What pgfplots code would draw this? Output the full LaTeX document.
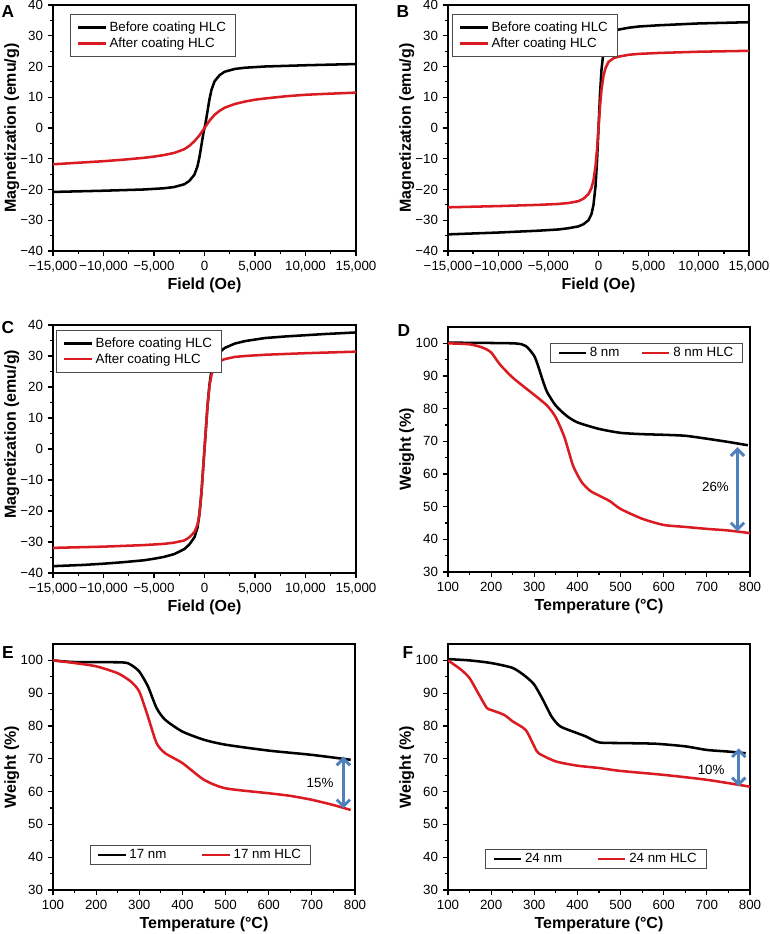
\documentclass[border=0pt]{standalone}
\usepackage{pgfplots}
\pgfplotsset{compat=1.18}
\usepackage{fontspec}
\setmainfont{Liberation Sans}
\usetikzlibrary{arrows.meta}
\definecolor{cred}{RGB}{218,28,34}
\definecolor{cblue}{RGB}{79,129,189}
\pgfplotsset{
  panel/.style={
    scale only axis, axis line style={line width=1.4pt}, tick align=outside, tick pos=left,
    major tick length=4pt, minor tick length=2.5pt, tick style={black, line width=0.9pt},
    minor tick num=1, scaled x ticks=false, scaled y ticks=false,
    tick label style={font=\fontsize{10}{12}\selectfont},
    label style={font=\bfseries\fontsize{12}{14}\selectfont},
    xlabel style={at={(axis description cs:0.5,0)}, anchor=center, yshift=-26pt},
    ylabel style={at={(axis description cs:0,0.5)}, anchor=center, yshift=31pt},
    /pgf/number format/assume math mode=true,
    legend style={draw=black!70, line width=0.6pt, font=\fontsize{10}{12}\selectfont, inner xsep=5pt, inner ysep=3.5pt, row sep=-1pt},
    legend cell align=left,
    legend image code/.code={\draw[#1] (0cm,0cm) -- (0.72cm,0cm);},
    every axis plot/.append style={line width=1.9pt, line join=round},
  },
  mag/.style={panel, xmin=-15000, xmax=15000, ymin=-40, ymax=40,
    xtick={-15000,-10000,-5000,0,5000,10000,15000},
    xticklabels={{−15,000},{−10,000},{−5,000},0,{5,000},{10,000},{15,000}},
    ytick={-40,-30,-20,-10,0,10,20,30,40},
    yticklabels={−40,−30,−20,−10,0,10,20,30,40},
    xlabel={Field (Oe)}, ylabel={Magnetization (emu/g)}},
  tga/.style={panel, xmin=100, xmax=800, ymin=30, ymax=105,
    xtick={100,200,...,800}, ytick={30,40,...,100},
    xlabel={Temperature (°C)}, ylabel={Weight (\%)},
    legend columns=2, legend style={inner ysep=1pt, /tikz/every even column/.append style={column sep=14pt}}},
}
\begin{document}
\begin{tikzpicture}
\path[use as bounding box] (0pt,0pt) rectangle (577.5pt,700.5pt);
% ---------- A ----------
\begin{axis}[mag, at={(39.75pt,512.25pt)}, anchor=south west, width=227.25pt, height=184.5pt,
  legend style={at={(0.056,0.963)}, anchor=north west}]
\addplot[black] coordinates {(-15000,-20.8) (-10000,-20.4) (-6000,-20.0) (-4000,-19.6) (-3000,-19.2) (-2000,-18.3) (-1500,-17.2) (-1000,-15.2) (-700,-12.5) (-500,-9.5) (-300,-5.5) (-100,-1.5) (0,0) (100,1.5) (300,5.5) (500,9.5) (700,12.5) (1000,15.2) (1500,17.2) (2000,18.3) (3000,19.2) (4000,19.6) (6000,20.0) (10000,20.4) (15000,20.8)};
\addplot[cred] coordinates {(-15000,-11.8) (-12000,-11.2) (-10000,-10.8) (-8000,-10.3) (-6000,-9.7) (-5000,-9.3) (-4000,-8.8) (-3000,-8.1) (-2000,-6.9) (-1500,-5.8) (-1000,-4.3) (-500,-2.4) (0,0) (500,2.4) (1000,4.3) (1500,5.6) (2000,6.6) (3000,7.8) (4000,8.6) (5000,9.2) (6000,9.6) (8000,10.3) (10000,10.8) (12000,11.1) (15000,11.5)};
\legend{Before coating HLC, After coating HLC}
\end{axis}
% ---------- B ----------
\begin{axis}[mag, at={(336pt,512.25pt)}, anchor=south west, width=225.75pt, height=184.5pt,
  legend style={at={(0.013,0.963)}, anchor=north west}]
\addplot[black] coordinates {(-15000,-34.6) (-10000,-34.0) (-6000,-33.4) (-4000,-33.0) (-3000,-32.6) (-2000,-32.0) (-1500,-31.3) (-1000,-30.0) (-700,-28.0) (-500,-25.0) (-300,-19) (-150,-11) (0,0) (150,11) (300,19) (500,25) (700,28) (1000,30) (1500,31.3) (2000,32.0) (3000,32.6) (4000,33.0) (6000,33.4) (10000,34.0) (15000,34.4)};
\addplot[cred] coordinates {(-15000,-25.8) (-10000,-25.4) (-6000,-25.0) (-4000,-24.7) (-3000,-24.4) (-2000,-23.8) (-1500,-23.0) (-1000,-21.5) (-700,-19.5) (-500,-17) (-300,-12.5) (-150,-7) (0,0) (150,7) (300,12.5) (500,17) (700,19.5) (1000,21.5) (1500,22.7) (2000,23.2) (3000,23.8) (4000,24.1) (6000,24.4) (10000,24.8) (15000,25.1)};
\legend{Before coating HLC, After coating HLC}
\end{axis}
% ---------- C ----------
\begin{axis}[mag, at={(39.75pt,270.75pt)}, anchor=south west, width=227.25pt, height=186pt,
  ylabel style={at={(axis description cs:0,0.56)}},
  legend style={at={(0.01,0.98)}, anchor=north west}]
\addplot[black] coordinates {(-15000,-37.8) (-12000,-37.4) (-10000,-37.0) (-8000,-36.5) (-6000,-35.9) (-5000,-35.4) (-4000,-34.8) (-3000,-33.9) (-2000,-32.3) (-1500,-30.8) (-1000,-28.5) (-700,-25.5) (-500,-21) (-300,-14) (-150,-7) (0,0) (150,7) (300,14) (500,21) (700,25.5) (1000,28.8) (1500,31.2) (2000,32.6) (3000,34.0) (4000,34.8) (5000,35.3) (6000,35.8) (8000,36.3) (10000,36.7) (12000,37.1) (15000,37.6)};
\addplot[cred] coordinates {(-15000,-31.9) (-10000,-31.5) (-6000,-31.0) (-4000,-30.6) (-3000,-30.2) (-2000,-29.5) (-1500,-28.5) (-1000,-26.8) (-700,-24.5) (-500,-21) (-300,-14) (-150,-7) (0,0) (150,7) (300,14) (500,20.5) (700,24) (1000,26.8) (1500,28.3) (2000,29.0) (3000,29.7) (4000,30.0) (6000,30.4) (10000,30.9) (15000,31.4)};
\legend{Before coating HLC, After coating HLC}
\end{axis}
% ---------- D ----------
\begin{axis}[tga, at={(336pt,271.5pt)}, anchor=south west, width=226.5pt, height=183.75pt,
  legend style={at={(0.977,0.935)}, anchor=north east}]
\addplot[black, smooth, tension=0.4] coordinates {(100,100.2) (250,100) (280,99.2) (300,96.1) (310,92.6) (320,88.5) (330,85) (350,80.9) (375,77.8) (400,75.8) (450,73.8) (500,72.6) (550,72.2) (600,72.0) (650,71.7) (700,70.8) (750,69.8) (795,68.8)};
\addplot[cred, smooth, tension=0.4] coordinates {(100,100) (150,99.7) (180,98.7) (200,97.2) (220,93.6) (250,89.5) (300,84.2) (330,80.9) (350,77.3) (370,71.2) (390,62.5) (410,57.5) (430,54.8) (450,53.4) (475,51.7) (500,49.3) (550,46.3) (600,44.4) (650,43.8) (700,43.2) (750,42.7) (800,41.9)};
\legend{8 nm, 8 nm HLC}
\draw[cblue, line width=2.2pt, {Straight Barb[length=5pt,width=10pt]}-{Straight Barb[length=5pt,width=10pt]}] (axis cs:771,68.2) -- (axis cs:771,42.4);
\node[font=\fontsize{10}{12}\selectfont] at (axis cs:720,56) {26\%};
\end{axis}
% ---------- E ----------
\begin{axis}[tga, at={(39.75pt,33pt)}, anchor=south west, width=226.5pt, height=184.5pt,
  legend style={at={(0.488,0.102)}, anchor=south, /tikz/every even column/.append style={column sep=24pt}}]
\addplot[black, smooth, tension=0.4] coordinates {(100,100) (150,99.5) (260,99.4) (280,98.7) (300,96.6) (320,92.1) (340,85.5) (360,81.9) (400,78.3) (450,75.8) (500,74.3) (600,72.5) (700,71.2) (790,69.7)};
\addplot[cred, smooth, tension=0.4] coordinates {(100,100) (150,99.2) (200,98.2) (250,96.1) (280,93.6) (300,90.5) (320,82.9) (340,74.8) (360,71.7) (400,68.7) (450,63.6) (500,61.0) (600,59.5) (650,58.7) (700,57.5) (750,55.9) (790,54.4)};
\legend{17 nm, 17 nm HLC}
\draw[cblue, line width=2.2pt, {Straight Barb[length=5pt,width=10pt]}-{Straight Barb[length=5pt,width=10pt]}] (axis cs:773,70.7) -- (axis cs:773,54.9);
\node[font=\fontsize{10}{12}\selectfont] at (axis cs:719,62.6) {15\%};
\end{axis}
% ---------- F ----------
\begin{axis}[tga, at={(336pt,33pt)}, anchor=south west, width=226.5pt, height=184.5pt,
  legend style={at={(0.49,0.085)}, anchor=south, /tikz/every even column/.append style={column sep=24pt}}]
\addplot[black, smooth, tension=0.4] coordinates {(100,100.4) (150,100) (200,99.2) (250,97.7) (280,95.1) (300,92.6) (320,88.0) (340,82.9) (360,79.9) (400,77.8) (420,76.8) (450,75.0) (500,74.8) (580,74.6) (650,73.8) (700,72.7) (750,72.2) (790,71.7)};
\addplot[cred, smooth, tension=0.4] coordinates {(100,100) (130,97.2) (150,94.6) (170,90.0) (190,85.5) (200,84.9) (230,83.4) (250,81.4) (280,78.8) (300,73.8) (310,71.7) (350,69.2) (400,67.9) (450,67.2) (500,66.3) (600,65.1) (700,63.6) (800,61.5)};
\legend{24 nm, 24 nm HLC}
\draw[cblue, line width=2.2pt, {Straight Barb[length=5pt,width=10pt]}-{Straight Barb[length=5pt,width=10pt]}] (axis cs:774,73.2) -- (axis cs:774,61.6);
\node[font=\fontsize{10}{12}\selectfont] at (axis cs:710,66.6) {10\%};
\end{axis}
% ---------- panel letters ----------
\begin{scope}[font=\bfseries\fontsize{13}{15}\selectfont]
\node at (6pt,691.5pt) {A};
\node at (302.25pt,691.5pt) {B};
\node at (6pt,454.5pt) {C};
\node at (303pt,452.25pt) {D};
\node at (6pt,210.75pt) {E};
\node at (306pt,210.75pt) {F};
\end{scope}
\end{tikzpicture}
\end{document}
